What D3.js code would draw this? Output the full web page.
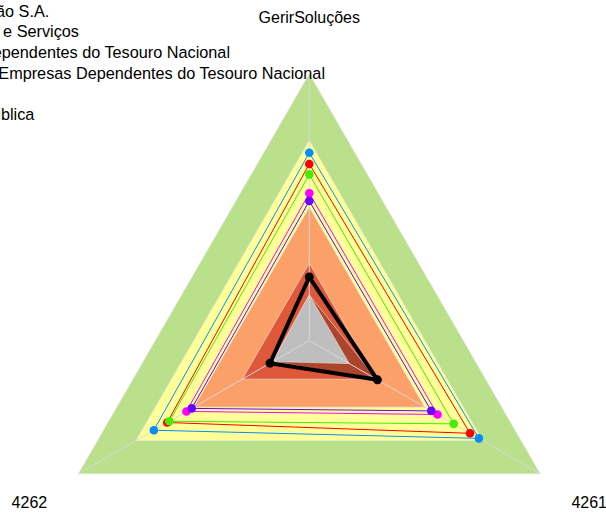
<!DOCTYPE html>
<html><head><meta charset="utf-8">
<script src="https://cdn.jsdelivr.net/npm/d3@7"></script>
<style>
body{margin:0;background:#fff;}
svg{display:block;font-family:Arial,"Liberation Sans",sans-serif;}
</style>
</head><body>
<svg id="chart" width="606" height="513"></svg>
<script>
// ---- data ----
const axes = ["GerirSoluções", "4261", "4262"];
const bandNames = ["Faixa A", "Faixa B", "Faixa C", "Faixa D", "Faixa E", "Faixa F"];
const bandValues = [
  [100, 100, 100],
  [75, 75, 75],
  [50, 50, 50],
  [29, 29, 29],
  [17.1, 29.3, 15.8],
  [17.1, 17.3, 15.8]
];
const bandColors = ["#bbe08c", "#ffff99", "#fba068", "#e0583a", "#ad452d", "#bebebe"];
const seriesNames = [
  "Gerir Soluções em Gestão S.A.",
  "Empresas de Tecnologia e Serviços",
  "Empresas Não Dependentes do Tesouro Nacional",
  "Média Empresas Dependentes do Tesouro Nacional",
  "Média",
  "Administração Pública"
];
const seriesValues = [
  [70.4, 73.4, 67.3],
  [66.2, 69.6, 61.5],
  [62.3, 62.5, 60.6],
  [55.2, 55.5, 53.2],
  [52.3, 52.8, 50.9],
  [23.8, 29.5, 17.0]
];
const seriesColors = ["#0a8cf8", "#ff0000", "#44ee00", "#ff00ff", "#6a00ff", "#000000"];
const maxValue = 100;

// ---- layout ----
const cx = 309.3, cy = 340.5, R = 266.7;
const legendEnds = [49.3, 79, 230, 325, -6, 34.3];
const legendTop = 16.7, legendStep = 20.6;

const svg = d3.select("#chart");
const r = d3.scaleLinear().domain([0, maxValue]).range([0, R]);
const ang = d3.scalePoint().domain(d3.range(axes.length + 1)).range([0, 2 * Math.PI]);
const angle = i => ang(i);
const radial = d3.lineRadial().angle((d, i) => angle(i)).radius(d => r(d)).curve(d3.curveLinearClosed);
const pt = (v, i) => [r(v) * Math.sin(angle(i)), -r(v) * Math.cos(angle(i))];

const g = svg.append("g").attr("transform", `translate(${cx},${cy})`);

// bands (filled radar series)
g.selectAll("path.band").data(bandValues).join("path")
  .attr("class", "band")
  .attr("d", d => radial(d))
  .attr("fill", (d, i) => bandColors[i])
  .attr("stroke", "#e8e8e8")
  .attr("stroke-width", 0.6);

// spokes
g.selectAll("line.spoke").data(axes).join("line")
  .attr("class", "spoke")
  .attr("x1", 0).attr("y1", 0)
  .attr("x2", (d, i) => pt(maxValue, i)[0])
  .attr("y2", (d, i) => pt(maxValue, i)[1])
  .attr("stroke", "#d8d8d8").attr("stroke-width", 1);

// series lines
seriesValues.forEach((vals, s) => {
  const isBlack = s === seriesValues.length - 1;
  g.append("path")
    .attr("d", radial(vals))
    .attr("fill", "none")
    .attr("stroke", seriesColors[s])
    .attr("stroke-width", isBlack ? 4 : 1)
    .attr("stroke-linejoin", "round");
  g.selectAll(null).data(vals).join("circle")
    .attr("cx", (d, i) => pt(d, i)[0])
    .attr("cy", (d, i) => pt(d, i)[1])
    .attr("r", isBlack ? 4.5 : 4.3)
    .attr("fill", seriesColors[s]);
});

// axis labels
g.selectAll("text.axis").data(axes).join("text")
  .attr("class", "axis")
  .attr("x", (d, i) => pt(maxValue * 1.212, i)[0])
  .attr("y", (d, i) => pt(maxValue * 1.212, i)[1])
  .attr("dy", "0.35em")
  .attr("text-anchor", "middle")
  .attr("font-size", 16)
  .attr("fill", "#000")
  .text(d => d);

// legend (partly outside the left edge)
const lg = svg.append("g");
lg.selectAll("text").data(seriesNames).join("text")
  .attr("x", (d, i) => legendEnds[i])
  .attr("y", (d, i) => legendTop + i * legendStep)
  .attr("text-anchor", "end")
  .attr("font-size", 16.25)
  .attr("fill", "#000")
  .text(d => d);
</script>
</body></html>
